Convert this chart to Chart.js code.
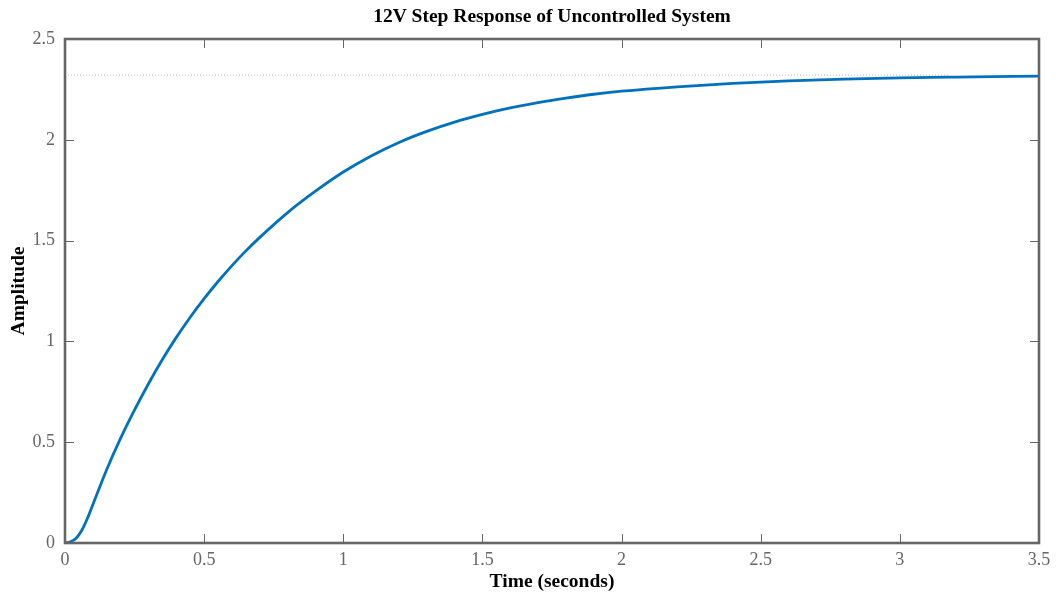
<!DOCTYPE html>
<html>
<head>
<meta charset="utf-8">
<script src="https://cdn.jsdelivr.net/npm/chart.js@4.4.1/dist/chart.umd.min.js"></script>
<style>
  html, body { margin: 0; padding: 0; background: #fff; }
  #wrap { width: 1056px; height: 597px; position: relative; }
</style>
</head>
<body>
<div id="wrap"><canvas id="stepChart"></canvas></div>
<script>
// Step response samples: time (s) and amplitude
const timeSec = [0, 0.02, 0.04, 0.06, 0.08, 0.1, 0.15, 0.2, 0.25, 0.3, 0.35, 0.4, 0.45, 0.5, 0.55,
  0.6, 0.65, 0.7, 0.8, 0.9, 1.0, 1.1, 1.2, 1.3, 1.4, 1.5, 1.6, 1.7, 1.8, 1.9, 2.0,
  2.2, 2.4, 2.6, 2.8, 3.0, 3.2, 3.5];
const amplitude = [0, 0.006, 0.024, 0.062, 0.12, 0.19, 0.365, 0.52, 0.66, 0.79, 0.91, 1.02, 1.12, 1.212, 1.297,
  1.376, 1.449, 1.516, 1.639, 1.745, 1.84, 1.92, 1.987, 2.042, 2.088, 2.126, 2.158, 2.185, 2.207, 2.226, 2.241,
  2.263, 2.28, 2.292, 2.301, 2.307, 2.311, 2.316];

// Steady-state reference line
const steadyTime = [0, 3.18];
const steadyValue = [2.321, 2.321];

const xTicks = [0, 0.5, 1, 1.5, 2, 2.5, 3, 3.5];
const yTicks = [0, 0.5, 1, 1.5, 2, 2.5];
const xTickLabels = ['0', '0.5', '1', '1.5', '2', '2.5', '3', '3.5'];
const yTickLabels = ['0', '0.5', '1', '1.5', '2', '2.5'];

const chartTitle = '12V Step Response of Uncontrolled System';
const xTitle = 'Time (seconds)';
const yTitle = 'Amplitude';

const AXIS_GRAY = '#666666';
const SERIF = '"Liberation Serif", "DejaVu Serif", serif';

// box, inward ticks on all four sides and the text labels
const axesBox = {
  id: 'axesBox',
  afterDatasetsDraw(chart) {
    const { ctx, chartArea: a, scales } = chart;
    const len = 9;
    ctx.save();
    ctx.strokeStyle = AXIS_GRAY;
    ctx.lineWidth = 1;
    ctx.beginPath();
    xTicks.forEach(v => {
      const px = Math.round(scales.x.getPixelForValue(v)) + 0.5;
      ctx.moveTo(px, a.bottom); ctx.lineTo(px, a.bottom - len);
      ctx.moveTo(px, a.top); ctx.lineTo(px, a.top + len);
    });
    yTicks.forEach(v => {
      const py = Math.round(scales.y.getPixelForValue(v)) + 0.5;
      ctx.moveTo(a.left, py); ctx.lineTo(a.left + len, py);
      ctx.moveTo(a.right, py); ctx.lineTo(a.right - len, py);
    });
    ctx.stroke();

    ctx.lineWidth = 2.6;
    ctx.strokeRect(a.left, a.top, a.right - a.left, a.bottom - a.top);

    ctx.fillStyle = '#000';
    ctx.textAlign = 'center';
    ctx.textBaseline = 'middle';
    ctx.font = 'bold 19.5px ' + SERIF;
    ctx.fillText(chartTitle, (a.left + a.right) / 2, 17);
    ctx.fillText(xTitle, (a.left + a.right) / 2, 582);
    ctx.translate(19, (a.top + a.bottom) / 2);
    ctx.rotate(-Math.PI / 2);
    ctx.fillText(yTitle, 0, 0);
    ctx.restore();
  }
};

new Chart(document.getElementById('stepChart'), {
  type: 'line',
  data: {
    datasets: [
      {
        data: steadyTime.map((t, i) => ({ x: t, y: steadyValue[i] })),
        borderColor: '#bdbdbd',
        borderWidth: 1,
        borderDash: [1, 2],
        pointRadius: 0,
        tension: 0
      },
      {
        data: timeSec.map((t, i) => ({ x: t, y: amplitude[i] })),
        borderColor: '#0072BD',
        borderWidth: 2.8,
        pointRadius: 0,
        cubicInterpolationMode: 'monotone'
      }
    ]
  },
  options: {
    responsive: true,
    maintainAspectRatio: false,
    animation: false,
    layout: { padding: { left: 0, right: 17, top: 39, bottom: 0 } },
    plugins: {
      legend: { display: false },
      tooltip: { enabled: false }
    },
    scales: {
      x: {
        type: 'linear',
        min: 0,
        max: 3.5,
        grid: { display: false },
        border: { display: false },
        afterBuildTicks: s => { s.ticks = xTicks.map(v => ({ value: v })); },
        afterFit: s => { s.height = 54; },
        ticks: {
          color: AXIS_GRAY,
          font: { family: SERIF, size: 18 },
          padding: -2,
          maxRotation: 0,
          callback: (v) => xTickLabels[xTicks.indexOf(v)]
        }
      },
      y: {
        min: 0,
        max: 2.5,
        grid: { display: false },
        border: { display: false },
        afterBuildTicks: s => { s.ticks = yTicks.map(v => ({ value: v })); },
        afterFit: s => { s.width = 65; },
        ticks: {
          color: AXIS_GRAY,
          font: { family: SERIF, size: 18 },
          padding: 2,
          callback: (v) => yTickLabels[yTicks.indexOf(v)]
        }
      }
    }
  },
  plugins: [axesBox]
});
</script>
</body>
</html>
